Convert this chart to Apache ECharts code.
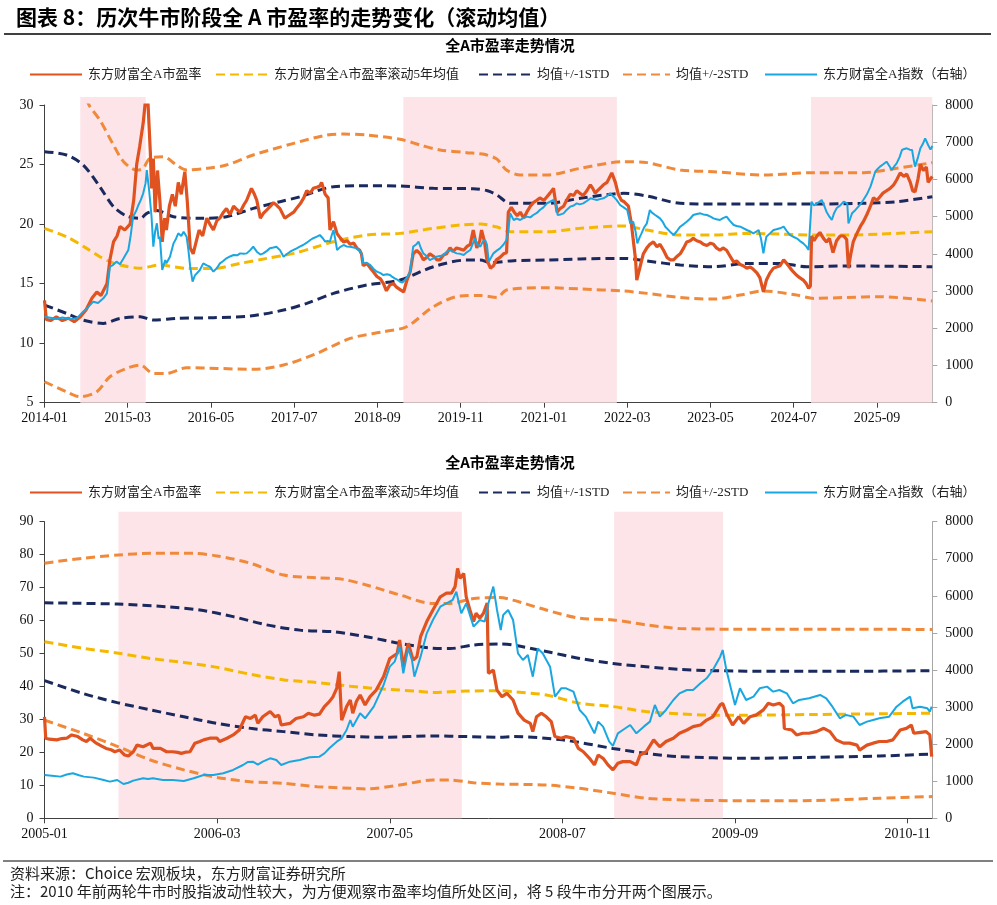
<!DOCTYPE html>
<html><head><meta charset="utf-8">
<script src="https://cdn.jsdelivr.net/npm/echarts@6/dist/echarts.min.js"></script>
<style>html,body{margin:0;padding:0;background:#fff}#c{width:997px;height:905px}</style>
</head><body><div id="c"></div>
<script>
// ---------- x axis: months since start ----------
const topStartYear = 2014;
const botStartYear = 2005;
const topTickMonths = [0,14,28,42,56,70,84,98,112,126,140];
const botTickMonths = [0,14,28,42,56,70];
const topMaxMonth = 149.3;
const botMaxMonth = 72;

// bull market periods (month offsets)
const topBulls = [[6.02,17.02],[60.35,96.25],[128.9,149.3]];
const botBulls = [[6.0,33.84],[46.2,55.03]];

// legend names
const names = ['东方财富全A市盈率','东方财富全A市盈率滚动5年均值','均值+/-1STD','均值+/-2STD','东方财富全A指数（右轴）'];

// ---------- top chart (2014-01 ~ 2026) ----------
const topPE = [[0,13.6],[0.3,12.0],[1,11.9],[2,12.2],[3,11.9],[4,12.1],[5,11.8],[6,12.2],[7,12.8],[8,13.8],[8.8,14.3],[9.5,14.0],[10.5,15.0],[11,17.0],[11.6,18.5],[12.2,19.0],[12.7,19.8],[13.5,19.5],[14.4,20.0],[15,22.0],[15.5,25.0],[16,26.5],[16.6,28.5],[17,30.5],[17.4,30.2],[17.8,26],[18,23.0],[18.3,25.5],[18.6,21],[19,24.5],[19.4,22],[19.8,18.5],[20.2,20.5],[20.5,19.5],[21,21.5],[21.5,22.5],[22,21.5],[22.5,23.5],[23,22.5],[23.6,24.4],[24,22],[24.5,18.0],[25,17.5],[25.5,18.5],[26,19.5],[26.6,19.0],[27.3,20.5],[27.8,20],[28.4,19.5],[29,20.3],[29.5,20.5],[30.1,21],[30.6,21.3],[31.2,20.8],[31.8,21.5],[32.4,21.2],[32.9,21.0],[33.5,21.6],[34,22.0],[34.8,23.0],[35.3,22.5],[35.7,22.0],[36.3,20.5],[36.8,20.9],[37.4,21.2],[38,21.5],[38.5,21.8],[39,21.6],[39.6,21.3],[40,20.9],[40.4,20.5],[41,20.7],[41.9,21.0],[42.5,21.4],[43,21.7],[43.6,22.2],[44.1,22.8],[44.7,22.6],[45.2,23.0],[45.8,23.1],[46.3,23.2],[46.6,23.5],[47.2,22.5],[47.7,22.2],[48,19.5],[48.6,20.2],[49.2,19.2],[49.8,18.8],[50.3,18.5],[50.9,18.6],[51.4,18.3],[52,18.4],[52.5,18.0],[53,17.8],[53.3,17.5],[53.6,16.5],[54.2,16.7],[54.8,16.3],[55.3,16.0],[55.9,15.6],[56.5,15.4],[57,15.0],[57.5,14.4],[58.1,14.9],[58.7,15.0],[59.2,14.7],[59.8,14.5],[60.4,14.3],[60.9,15.2],[61.5,16.0],[62,17.5],[62.6,17.8],[63.2,17.5],[63.7,17.0],[64.3,17.2],[64.8,17.5],[65.4,17.3],[66,17.0],[66.5,17.0],[67.1,17.4],[67.6,17.5],[68.2,18.0],[68.7,17.7],[69.3,18.0],[69.9,17.9],[70.5,17.8],[71,18.1],[71.6,18.3],[72.1,19.5],[72.7,18.0],[73.2,18.6],[73.5,19.5],[74,18.5],[74.4,17.0],[75,16.3],[75.5,16.5],[76,17.0],[76.6,17.2],[77.2,17.5],[77.7,17.6],[78,21.0],[78.5,21.4],[79,21.0],[79.5,20.7],[80,21.0],[80.6,20.5],[81.1,21.0],[81.7,21.5],[82.2,21.8],[82.8,22.0],[83.3,22.2],[84,22.0],[84.5,22.3],[85,22.6],[85.6,23.0],[86.2,21.0],[86.7,21.3],[87.3,21.5],[87.8,22.0],[88.4,22.5],[89,22.4],[89.5,22.8],[90,22.6],[90.6,22.4],[91.2,22.8],[91.8,23.3],[92.2,23.0],[92.6,22.6],[93,22.8],[93.4,23.0],[94,23.3],[94.6,23.5],[95,23.9],[95.4,24.3],[96,23.5],[96.5,22.5],[97,22.0],[97.4,21.9],[98.2,21.5],[98.7,20.0],[99,18.7],[99.4,17.0],[99.6,15.3],[100.2,16.5],[100.7,17.5],[101.3,18.0],[101.8,18.3],[102.4,18.5],[103,18.1],[103.5,18.3],[104.1,17.8],[104.7,17.2],[105.2,17.0],[105.8,17.0],[106.4,17.3],[106.9,17.5],[107.5,18.0],[108,18.5],[108.6,18.6],[109.1,18.8],[109.7,18.6],[110.3,18.5],[110.8,18.3],[111.4,18.2],[112,18.4],[112.5,18.3],[113,18.0],[113.6,17.8],[114.1,18.0],[114.7,17.8],[115.3,17.3],[115.9,16.8],[116.4,16.9],[117,16.6],[117.5,16.5],[118.1,16.3],[118.7,16.4],[119.2,16.2],[119.8,15.9],[120.3,15.5],[120.9,14.3],[121.4,15.3],[122,15.9],[122.6,16.3],[123.1,16.4],[123.7,16.5],[124.3,17.0],[124.8,16.7],[125.4,16.3],[125.9,16.0],[126.5,15.7],[127,15.5],[127.6,15.3],[128.1,15.0],[128.5,14.6],[128.8,14.8],[129,19.0],[129.4,18.6],[129.9,19.0],[130.4,19.3],[131,18.8],[131.5,18.5],[132,18.8],[132.6,17.6],[133.2,18.6],[133.8,19.0],[134.4,19.0],[134.9,18.7],[135.2,16.3],[135.6,17.5],[136,18.5],[136.6,19.2],[137.2,19.8],[137.7,20.2],[138.3,20.8],[138.9,21.5],[139.4,22.2],[140,22.0],[140.5,22.3],[141,22.6],[141.6,22.8],[142.2,23.0],[142.8,23.3],[143.3,23.7],[143.9,24.3],[144.5,24.0],[145,24.2],[145.6,23.5],[146,22.8],[146.4,22.7],[146.9,23.8],[147.3,25.0],[147.8,24.5],[148.3,24.8],[148.6,23.5],[149,23.8],[149.3,24.0]];

const topIndex = [[0,2310],[1,2280],[2,2250],[3,2290],[3.7,2267],[4.5,2240],[5.5,2280],[6.5,2446],[7.3,2560],[8.2,2715],[9,2680],[9.9,2804],[10.5,2939],[11,3655],[11.5,3700],[12.1,3790],[12.7,3720],[13.3,3880],[14.1,4103],[14.5,4500],[14.9,5000],[15.4,5150],[15.8,5313],[16.2,5450],[16.6,5626],[17,5900],[17.2,6253],[17.6,5700],[18,5000],[18.3,4193],[18.6,4600],[18.9,4820],[19.2,4400],[19.4,4461],[19.8,3566],[20.3,3834],[20.5,3745],[21.1,3924],[21.7,4282],[22.1,4400],[22.5,4551],[23,4480],[23.4,4596],[23.9,4461],[24.2,4100],[24.5,3655],[24.9,3252],[25.3,3420],[25.6,3386],[26.1,3560],[26.7,3745],[27.3,3690],[27.8,3655],[28.4,3521],[29,3620],[29.5,3745],[30,3800],[30.6,3880],[31.2,3930],[31.8,3969],[32.4,3960],[32.9,4013],[33.5,4000],[34,4013],[34.6,4100],[35.1,4193],[35.7,4058],[36.3,3980],[36.8,4013],[37.4,4080],[37.9,4148],[38.5,4170],[39,4193],[39.6,4100],[40.2,3924],[40.7,3990],[41.3,4058],[41.8,4100],[42.4,4148],[43,4200],[43.5,4238],[44.1,4300],[44.7,4372],[45.2,4420],[45.8,4461],[46.3,4506],[46.8,4420],[47.2,4327],[47.6,4350],[48,4327],[48.3,4500],[48.6,4641],[49,4300],[49.2,4103],[49.7,4180],[50.3,4238],[50.8,4200],[51.4,4193],[52,4170],[52.5,4148],[53,4080],[53.3,4013],[53.6,3745],[54.2,3760],[54.8,3700],[55.3,3600],[55.9,3521],[56.5,3480],[57,3431],[57.6,3450],[58.1,3431],[58.5,3380],[58.9,3342],[59.4,3300],[59.8,3252],[60.2,3230],[60.6,3297],[61,3380],[61.5,3521],[62,4193],[62.5,4250],[62.9,4327],[63.3,4150],[63.7,4013],[64.2,3950],[64.8,3834],[65.4,3880],[65.9,3924],[66.5,3940],[67.1,3969],[67.6,4050],[68.2,4103],[68.7,4060],[69.3,4013],[69.9,4000],[70.5,3969],[71,4040],[71.6,4103],[72.1,4300],[72.4,4417],[72.8,4250],[73.3,4193],[73.7,4330],[74.1,4372],[74.4,4250],[74.7,3790],[75.1,3900],[75.5,4013],[76,4080],[76.6,4148],[77.2,4250],[77.7,4372],[78,4600],[78.3,5089],[78.9,4910],[79.4,4950],[80,4910],[80.5,4960],[81.1,5000],[81.7,4980],[82.2,5044],[82.8,5100],[83.3,5178],[83.9,5250],[84.5,5357],[85,5400],[85.6,5447],[86,5300],[86.3,5044],[86.8,5060],[87.3,5089],[87.8,5180],[88.4,5268],[89,5300],[89.5,5357],[90,5330],[90.6,5357],[91.2,5420],[91.8,5492],[92.3,5470],[92.9,5447],[93.4,5470],[94,5492],[94.6,5550],[95.1,5626],[95.7,5537],[96.2,5450],[96.8,5313],[97.4,5250],[98,5178],[98.5,4820],[99,4865],[99.4,4600],[99.7,4282],[100.1,4450],[100.4,4551],[100.8,4700],[101.3,4820],[101.8,5178],[102.2,5100],[102.7,5044],[103.1,5000],[103.5,4954],[104,4850],[104.4,4730],[105.2,4596],[105.8,4506],[106.3,4600],[106.9,4730],[107.5,4800],[108,4865],[108.6,4950],[109.1,5044],[109.7,5070],[110.3,5089],[110.8,5060],[111.4,5044],[112,5000],[112.5,4954],[113,4930],[113.6,4910],[114.1,4960],[114.7,5000],[115.3,4880],[115.9,4775],[116.4,4750],[117,4730],[117.5,4690],[118.1,4641],[118.7,4600],[119.2,4551],[119.7,4600],[120.1,4641],[120.5,4400],[120.9,4013],[121.2,4300],[121.4,4461],[122,4550],[122.6,4641],[123.1,4660],[123.7,4686],[124.3,4730],[124.8,4620],[125.4,4506],[125.9,4460],[126.5,4417],[127,4350],[127.6,4282],[128.1,4200],[128.5,4103],[128.8,4150],[129,5402],[129.4,5300],[129.9,5357],[130.3,5400],[130.7,5447],[131.1,5300],[131.5,5134],[132,5000],[132.4,4910],[132.8,5100],[133.2,5223],[133.8,5300],[134.4,5402],[135,5357],[135.2,4820],[135.5,4950],[135.8,5089],[136.2,5150],[136.6,5223],[137.2,5330],[137.7,5447],[138.3,5600],[138.9,5805],[139.3,6000],[139.7,6208],[140.1,6280],[140.5,6343],[141,6400],[141.6,6477],[142,6380],[142.5,6253],[142.9,6350],[143.3,6432],[143.8,6600],[144.2,6791],[144.6,6820],[145,6836],[145.5,6800],[145.9,6791],[146.2,6500],[146.4,6343],[146.9,6600],[147.3,6836],[147.7,6950],[148.1,7104],[148.6,6925],[149,6800],[149.3,6900]];

const topMean = [[0,19.64],[3.7,18.94],[7.1,17.96],[9.3,17.26],[11,16.84],[12.7,16.56],[16.1,16.3],[19.4,16.56],[23.9,16.28],[28.4,16.28],[32.9,16.7],[37.4,17.12],[41.9,17.54],[45.8,18.1],[48.6,18.52],[54.2,19.08],[59.8,19.22],[65.4,19.64],[69.9,19.92],[73.3,20.0],[76.1,19.75],[78.3,19.36],[84.5,19.36],[90.1,19.64],[97.4,19.84],[101.3,19.5],[106.9,19.08],[112.5,19.08],[118.1,19.22],[123.7,19.16],[129.4,19.08],[134.9,19.08],[140.5,19.16],[149.3,19.36]];
const topUp1 = [[0,26.08],[3.7,25.8],[6.5,24.96],[9.3,23.14],[11.6,21.46],[13.8,20.68],[16.1,20.48],[17.2,20.9],[18.9,21.13],[21.7,20.62],[26.2,20.48],[30.6,20.62],[35.1,21.32],[39.6,21.88],[43,22.3],[46.3,22.86],[48.6,23.14],[54.2,23.22],[59.8,23.2],[65.4,23.0],[72.1,22.97],[74.5,22.8],[76.1,22.44],[78.3,21.74],[84.5,21.74],[90.1,22.16],[97.4,22.58],[101.3,22.36],[106.9,21.74],[112.5,21.69],[123.7,21.69],[129.4,21.69],[137.7,21.74],[143.3,21.88],[149.3,22.3]];
const topLo1 = [[0,13.2],[3.7,12.5],[6.5,11.94],[9.9,11.66],[12.7,12.08],[16.1,12.22],[18.3,11.94],[22.2,12.08],[28.4,12.14],[34.6,12.28],[40.2,12.78],[44.1,13.34],[48.6,14.18],[54.2,14.88],[59.8,15.3],[65.4,16.42],[71,16.98],[73.3,16.98],[75,16.76],[78.9,16.93],[84.5,16.98],[90.1,17.07],[97.4,17.12],[101.3,16.9],[106.9,16.56],[112.5,16.42],[118.1,16.7],[123.7,16.7],[128.2,16.42],[134.9,16.48],[149.3,16.42]];
const topUp2 = [[0,32.5],[3.7,32.7],[6,31.5],[7.6,29.9],[9.3,28.74],[11.6,26.64],[13.3,25.24],[15.5,24.54],[16.6,24.68],[17.7,25.52],[20,25.66],[22.2,24.96],[23.9,24.54],[27.3,24.68],[30.6,24.96],[35.1,25.8],[41.9,26.78],[47.5,27.48],[50.3,27.56],[54.2,27.48],[59.8,27.12],[63.2,26.64],[66.5,26.22],[71,26.0],[73.3,25.9],[74.4,25.8],[76.1,25.45],[77.7,24.54],[80,24.12],[84.5,24.12],[90.1,24.68],[97.4,25.24],[101.3,25.16],[106.9,24.54],[112.5,24.4],[120.9,24.12],[129.4,24.32],[137.7,24.32],[143.3,24.68],[149.3,25.16]];
const topLo2 = [[0,6.76],[3.7,5.92],[6,5.5],[8.8,5.92],[11,7.18],[13.8,7.88],[16.1,8.16],[18.3,7.46],[20.5,7.46],[23.9,7.94],[29,7.88],[35.1,7.8],[40.2,8.16],[45.8,9.14],[51.4,10.4],[57,10.96],[60.9,11.38],[65.4,13.06],[69.9,13.96],[73.3,14.0],[76.1,13.84],[77.7,14.46],[84.5,14.66],[90.1,14.55],[97.4,14.38],[101.3,14.18],[106.9,13.84],[112.5,13.7],[117,14.04],[120.9,14.38],[126.5,14.04],[129.4,13.76],[134.9,13.84],[140.5,13.9],[149.3,13.54]];

// ---------- bottom chart (2005-01 ~ 2010-12) ----------
const botPE = [[0,30.8],[0.1,24.3],[0.4,24.0],[1,23.8],[1.4,24.2],[1.8,24.3],[2.2,25.3],[2.7,24.8],[3.1,23.8],[3.4,23.3],[3.7,24.3],[4.2,22.8],[4.6,22.0],[5,21.2],[5.4,20.8],[5.7,20.2],[6.1,20.7],[6.5,19.2],[6.8,18.9],[7.2,20.2],[7.5,22.2],[8,21.7],[8.6,22.8],[8.8,21.2],[9.4,21.2],[9.9,20.2],[10.4,20.2],[10.8,20.0],[11.1,19.7],[11.5,20.1],[11.8,20.2],[12.2,22.8],[12.6,23.3],[12.9,23.8],[13.4,24.3],[14,24.3],[14.2,23.3],[14.8,24.3],[15.3,25.3],[15.8,26.8],[16.3,30.8],[16.7,30.3],[17.1,31.3],[17.3,28.8],[17.7,30.8],[18.3,32.4],[18.7,30.8],[19,31.3],[19.2,28.3],[19.9,28.8],[20.4,30.3],[21,30.8],[21.4,31.9],[21.9,31.3],[22.3,31.6],[22.7,33.9],[23.1,35.4],[23.4,36.9],[23.7,39.4],[23.9,44.5],[24.1,29.8],[24.5,33.9],[24.8,35.9],[25,31.9],[25.3,35.5],[25.6,37.4],[26,34.4],[26.4,36.9],[26.9,38.9],[27.5,43.0],[28,48.5],[28.6,50.0],[28.8,54.1],[29.1,46.0],[29.5,53.1],[29.9,48.0],[30.2,49.0],[30.5,55.1],[31,59.7],[31.5,63.2],[32.1,67.2],[32.6,68.3],[33,68.3],[33.3,70.3],[33.5,75.8],[33.7,72.8],[34,74.3],[34.2,67.2],[34.5,63.2],[34.8,59.7],[35,62.2],[35.3,60.7],[35.6,62.2],[35.9,65.3],[36,44.0],[36.4,45.0],[36.7,38.9],[37.1,36.9],[37.5,37.9],[38,35.9],[38.4,31.9],[38.9,29.8],[39.4,28.8],[39.6,26.3],[39.9,30.8],[40.3,31.9],[40.7,30.8],[41.1,29.3],[41.4,24.8],[41.9,24.3],[42.3,24.8],[42.9,24.3],[43.3,21.2],[43.7,20.2],[44.2,18.2],[44.6,16.2],[44.9,19.2],[45.3,18.2],[45.7,16.2],[46.1,14.7],[46.5,16.7],[46.9,17.2],[47.5,17.2],[48,16.2],[48.3,19.2],[48.8,20.2],[49.4,23.8],[49.9,21.7],[50.4,23.3],[51,24.3],[51.5,25.8],[52.1,26.8],[52.6,27.8],[53.2,28.3],[53.7,29.8],[54.2,30.8],[54.8,34.4],[55,34.9],[55.3,31.9],[55.8,28.3],[56.3,30.8],[56.7,28.8],[57.2,30.8],[57.7,31.3],[58.3,32.9],[58.7,34.9],[59.1,34.4],[59.6,34.9],[59.9,33.9],[60,27.3],[60.6,26.8],[61,25.3],[61.5,25.8],[62,25.8],[62.6,26.3],[63.2,27.3],[63.7,26.3],[64.2,23.8],[64.8,22.8],[65.3,22.8],[65.9,22.2],[66.1,20.7],[66.7,22.2],[67.2,22.8],[67.7,23.3],[68.3,23.3],[68.8,23.8],[69.4,26.8],[69.9,27.3],[70.3,28.3],[70.5,25.8],[70.9,26.0],[71.5,26.3],[71.8,25.3],[71.95,18.7]];

const botIndex = [[0,1169],[0.6,1150],[1.3,1124],[1.8,1180],[2.3,1214],[2.8,1160],[3.2,1124],[4,1097],[4.8,1034],[5.3,989],[5.9,1034],[6.4,926],[6.8,960],[7.2,1016],[8,1079],[8.4,1060],[8.8,1079],[9.6,1034],[10.4,1034],[11.3,1007],[12.1,1079],[12.9,1169],[13.7,1169],[14.5,1214],[15.3,1304],[16.1,1438],[16.5,1520],[16.9,1528],[17.3,1450],[17.7,1528],[18.3,1618],[18.8,1573],[19.2,1438],[19.9,1528],[20.7,1573],[21.5,1645],[22.3,1663],[22.7,1750],[23.1,1888],[23.7,2067],[24.1,2157],[24.5,2382],[24.8,2652],[25,2472],[25.6,2832],[26,2697],[26.7,3011],[27.1,3300],[27.5,3596],[28,4090],[28.4,4225],[28.8,4629],[29.1,3910],[29.5,4584],[29.8,4270],[30,3820],[30.5,4360],[31,4989],[31.5,5349],[32.1,5708],[32.6,5798],[33.1,5888],[33.4,6113],[33.8,5528],[34.2,5798],[34.8,5169],[35.3,5349],[35.7,5304],[36,5798],[36.4,6248],[36.7,5618],[37,5079],[37.2,5483],[37.6,5618],[38,5349],[38.4,4450],[38.8,4270],[39.2,4405],[39.6,3820],[40,4584],[40.4,4450],[41,4090],[41.4,3281],[41.9,3506],[42.3,3506],[42.9,3416],[43.4,2922],[43.9,2742],[44.6,2292],[44.9,2607],[45.3,2472],[45.8,2067],[46.1,1951],[46.5,2292],[46.9,2382],[47.5,2517],[48,2292],[48.6,2472],[49.1,2607],[49.5,3056],[49.9,2742],[50.4,2922],[51,3191],[51.5,3371],[52.1,3461],[52.6,3461],[53.2,3641],[53.7,3775],[54.2,4000],[54.8,4360],[55,4540],[55.3,4000],[55.7,3461],[56,3056],[56.4,3506],[56.9,3191],[57.5,3281],[58,3506],[58.6,3551],[59.1,3416],[59.6,3461],[60.2,3371],[60.7,3101],[61.2,3191],[62,3236],[62.9,3326],[63.4,3236],[63.9,3011],[64.5,2697],[65,2787],[65.6,2742],[66.1,2517],[66.7,2607],[67.2,2652],[67.7,2697],[68.5,2742],[69.1,3011],[69.6,3146],[70.2,3281],[70.4,2967],[71,3011],[71.6,2967],[71.8,2877],[71.95,3011]];

const botMean = [[0,53.6],[3.1,51.6],[6,50.1],[8.6,48.5],[11.3,47.3],[14,45.8],[16.7,43.7],[19.4,42],[22.1,41.2],[24.8,40.1],[27.5,39.2],[30.2,38.6],[31.5,38.2],[34.2,38.6],[36.9,38.7],[38,38.4],[40.7,37.4],[43.4,34.9],[46.1,33.9],[48.8,32.4],[51.5,31.7],[54.2,31.3],[56.9,31.3],[62.3,31.5],[67.7,31.7],[72,31.9]];
const botUp1 = [[0,65.4],[5.9,65],[9.9,64.2],[12.6,63.2],[15.3,61.2],[18,58.7],[20.7,57.1],[23.4,56.6],[26.1,55.1],[28.8,53.1],[31.5,51.6],[32.9,51.5],[34.8,52.6],[36.9,52.9],[38,52.6],[40.7,50.6],[43.4,48.5],[46.1,47],[48.8,46],[51.5,45.2],[54.2,44.8],[59.6,44.6],[65,44.6],[72,44.8]];
const botLo1 = [[0,41.8],[3.1,37.9],[5.9,35.1],[8.6,32.9],[11.3,30.8],[14,28.8],[16.7,27.3],[19.4,26.3],[22.1,25.3],[24.8,24.8],[27.5,24.6],[31.5,25],[34.2,24.8],[36.9,24.6],[38,24.8],[42,23.8],[46.1,21.2],[48.8,19.7],[51.5,18.7],[56.9,18.2],[62.3,18.5],[67.7,18.9],[72,19.5]];
const botUp2 = [[0,77.4],[3.1,78.9],[6,79.9],[8.6,80.4],[12.1,80.4],[14,79.6],[16.7,77.4],[19.4,73.8],[22.1,73],[24.2,72.5],[26.1,70.8],[28.8,67.8],[31.5,65.2],[32.9,65.2],[34.8,66.7],[36.9,67],[38,66.2],[40.7,63.2],[43.4,60.7],[46.1,60.2],[48.8,58.7],[51.5,57.6],[55.6,57.4],[62.3,57.4],[72,57.3]];
const botLo2 = [[0,29.8],[3.1,25.8],[6,21.7],[8.6,17.7],[11.3,14.7],[14,12.4],[16.7,11.1],[19.4,10.6],[22.1,9.6],[24.8,9.1],[26.1,8.9],[28.8,10.1],[31.5,11.6],[32.9,11.6],[34.8,10.8],[36.9,10.4],[40.7,10.1],[43.4,9.1],[46.1,7.6],[48.8,6.1],[51.5,5.6],[56.9,5.3],[62.3,5.4],[67.7,6.1],[72,6.6]];

// ---------- styling ----------
const C = {pe:'#E0521F', mean:'#F5B800', s1:'#1B2A5E', s2:'#F08A3A', idx:'#1AA7E1', band:'#FCE4E8'};
const serif = "'Liberation Serif','Times New Roman','Noto Sans CJK SC',serif";
const cjk = "'Liberation Serif','Noto Sans CJK SC',sans-serif";

function monthLabel(base){
  return v => { const m = Math.round(v); const y = base + Math.floor(m/12); const mo = m%12+1; return y+'-'+(mo<10?'0':'')+mo; };
}
function line(name, data, color, width, dashed, xi, yi, z){
  return {type:'line', name, data, xAxisIndex:xi, yAxisIndex:yi, symbol:'none', showSymbol:false,
    smooth: dashed ? 0.3 : false, z, clip:true, animation:false, emphasis:{disabled:true},
    lineStyle:{color, width, type: dashed ? [9,5] : 'solid', cap:'butt'}, itemStyle:{color}};
}
function bandSeries(xi, yi, bulls){
  return {type:'line', name:'band'+xi, xAxisIndex:xi, yAxisIndex:yi, data:[[0,0.5]], symbol:'none',
    lineStyle:{opacity:0, width:0}, z:0, silent:true, animation:false,
    markArea:{silent:true, itemStyle:{color:C.band, opacity:1}, data: bulls.map(b=>[{xAxis:b[0]},{xAxis:b[1]}])}};
}
function xAx(gi, max, ticks, base, show){
  if(!show) return {gridIndex:gi, type:'value', min:0, max, show:false};
  return {gridIndex:gi, type:'value', min:0, max, splitLine:{show:false},
    axisLine:{show:true, lineStyle:{color:'#404040', width:1}},
    axisTick:{show:true, length:5, customValues:ticks, lineStyle:{color:'#404040'}},
    axisLabel:{customValues:ticks, formatter:monthLabel(base), margin:9, fontFamily:serif, fontSize:14, color:'#111'}};
}
function yAx(gi, min, max, interval, pos, lineColor, margin){
  return {gridIndex:gi, type:'value', min, max, interval, position:pos, splitLine:{show:false},
    axisLine:{show:true, onZero:false, lineStyle:{color:lineColor, width:1}},
    axisTick:{show:true, length:5, lineStyle:{color:lineColor}},
    axisLabel:{margin, fontFamily:serif, fontSize:14, color:'#111', formatter: v => String(v)}};
}
function legends(top){
  const pos = [24, 210, 473, 617, 759];
  return names.map((n,i)=>({data:[n], left:pos[i], top, itemWidth:i===3?47:52, itemHeight:14, itemGap:0,
    selectedMode:false, itemStyle:{opacity:0, borderWidth:0},
    textStyle:{fontFamily:cjk, fontSize:13, color:'#222', padding:[0,0,0,1]}}));
}

const chart = echarts.init(document.getElementById('c'), null, {renderer:'canvas'});
chart.setOption({
  backgroundColor:'#fff',
  animation:false,
  grid:[
    {left:44.5, right:64.7, top:105, height:297.7},
    {left:44.5, right:64.7, top:97, height:305.7},
    {left:44.5, right:64.7, top:521.7, height:296.6},
    {left:44.5, right:64.7, top:511.7, height:306.6}
  ],
  xAxis:[
    xAx(0, topMaxMonth, topTickMonths, topStartYear, true),
    xAx(1, topMaxMonth, null, null, false),
    xAx(2, botMaxMonth, botTickMonths, botStartYear, true),
    xAx(3, botMaxMonth, null, null, false)
  ],
  yAxis:[
    yAx(0, 5, 30, 5, 'left', '#404040', 11),
    yAx(0, 0, 8000, 1000, 'right', '#a6a6a6', 13),
    {gridIndex:1, type:'value', min:0, max:1, show:false},
    yAx(2, 0, 90, 10, 'left', '#404040', 11),
    yAx(2, 0, 8000, 1000, 'right', '#a6a6a6', 13),
    {gridIndex:3, type:'value', min:0, max:1, show:false}
  ],
  legend:[...legends(63), ...legends(481)],
  series:[
    bandSeries(1, 2, topBulls),
    bandSeries(3, 5, botBulls),
    line(names[1], topMean, C.mean, 3, true, 0, 0, 3),
    line(names[2], topUp1, C.s1, 3, true, 0, 0, 3),
    line(names[2], topLo1, C.s1, 3, true, 0, 0, 3),
    line(names[3], topUp2, C.s2, 3, true, 0, 0, 3),
    line(names[3], topLo2, C.s2, 3, true, 0, 0, 3),
    line(names[0], topPE, C.pe, 3.2, false, 0, 0, 4),
    line(names[4], topIndex, C.idx, 2, false, 0, 1, 5),
    line(names[1], botMean, C.mean, 3, true, 2, 3, 3),
    line(names[2], botUp1, C.s1, 3, true, 2, 3, 3),
    line(names[2], botLo1, C.s1, 3, true, 2, 3, 3),
    line(names[3], botUp2, C.s2, 3, true, 2, 3, 3),
    line(names[3], botLo2, C.s2, 3, true, 2, 3, 3),
    line(names[0], botPE, C.pe, 3.2, false, 2, 3, 4),
    line(names[4], botIndex, C.idx, 2, false, 2, 4, 5)
  ],
  graphic:[
    {type:'text', x:16, y:17, style:{text:'图表 8：历次牛市阶段全 A 市盈率的走势变化（滚动均值）', font:"bold 21px 'Noto Sans CJK SC', sans-serif", fill:'#000', verticalAlign:'middle'}},
    {type:'line', shape:{x1:4, y1:34, x2:991, y2:34}, style:{stroke:'#000', lineWidth:1.5}},
    {type:'text', x:510, y:45, style:{text:'全A市盈率走势情况', font:"bold 15px 'Noto Sans CJK SC', sans-serif", fill:'#000', align:'center', verticalAlign:'middle'}},
    {type:'text', x:510, y:462, style:{text:'全A市盈率走势情况', font:"bold 15px 'Noto Sans CJK SC', sans-serif", fill:'#000', align:'center', verticalAlign:'middle'}},
    {type:'line', shape:{x1:3, y1:861, x2:993, y2:861}, style:{stroke:'#808080', lineWidth:2}},
    {type:'text', x:10, y:873, style:{text:'资料来源：Choice 宏观板块，东方财富证券研究所', font:"15px 'Noto Sans CJK SC', sans-serif", fill:'#222', verticalAlign:'middle'}},
    {type:'text', x:10, y:891, style:{text:'注：2010 年前两轮牛市时股指波动性较大，为方便观察市盈率均值所处区间，将 5 段牛市分开两个图展示。', font:"15px 'Noto Sans CJK SC', sans-serif", fill:'#222', verticalAlign:'middle'}}
  ]
});
</script>
</body></html>
